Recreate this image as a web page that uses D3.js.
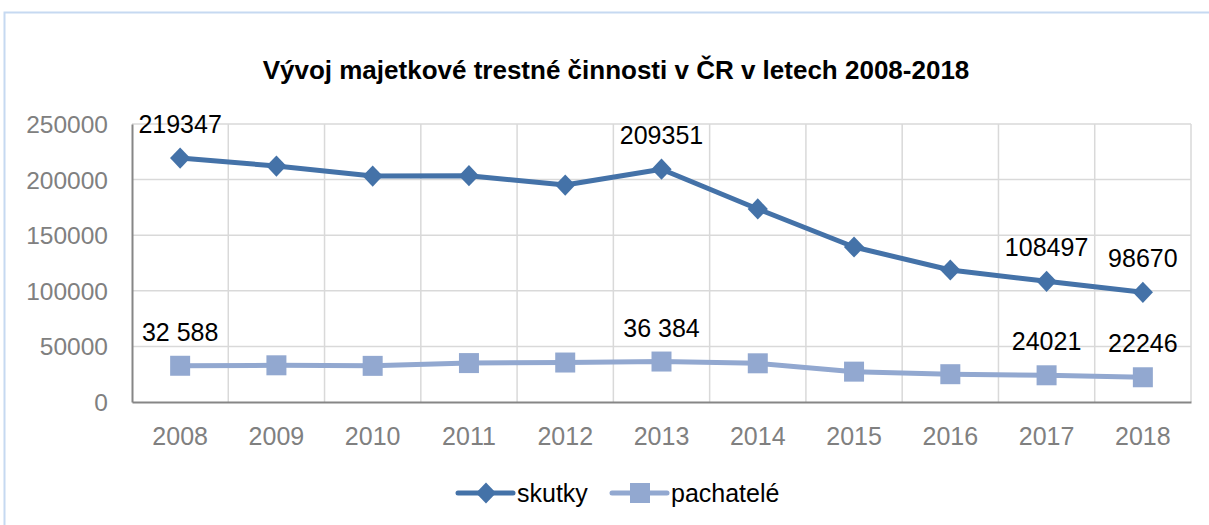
<!DOCTYPE html>
<html>
<head>
<meta charset="utf-8">
<script src="https://cdn.jsdelivr.net/npm/d3@7"></script>
<style>
  body { margin: 0; background: #fff; }
  text { font-family: "Liberation Sans", Arial, sans-serif; }
</style>
</head>
<body>
<div id="chart"></div>
<script>
// chart data
var years = ["2008", "2009", "2010", "2011", "2012", "2013", "2014", "2015", "2016", "2017", "2018"];
var skutky = [219347, 212200, 203200, 203500, 195100, 209351, 173600, 139400, 118700, 108497, 98670];
var pachatele = [32588, 33000, 32500, 35000, 35500, 36384, 34800, 27300, 25000, 24021, 22246];
var yTicks = [0, 50000, 100000, 150000, 200000, 250000];
// labels shown on the chart (index -> text)
var skutkyLabels = { 0: "219347", 5: "209351", 9: "108497", 10: "98670" };
var pachateleLabels = { 0: "32 588", 5: "36 384", 9: "24021", 10: "22246" };

var W = 1209, H = 525;
var plot = { left: 132, right: 1191, top: 124, bottom: 402 };

var svg = d3.select("#chart").append("svg")
    .attr("width", W)
    .attr("height", H);

// outer chart frame (light blue)
svg.append("rect")
    .attr("x", 4.5).attr("y", 12.5)
    .attr("width", W + 10).attr("height", H + 10)
    .attr("fill", "none")
    .attr("stroke", "#c6d9f1")
    .attr("stroke-width", 2);

var x = d3.scaleBand().domain(years).range([plot.left, plot.right]);
var y = d3.scaleLinear().domain([0, 250000]).range([plot.bottom, plot.top]);
var cx = function (i) { return x(years[i]) + x.bandwidth() / 2; };

// marker shapes
var diamond = d3.symbol().type(d3.symbolDiamond).size(130);
var square = d3.symbol().type(d3.symbolSquare).size(400);
function markerTransform(shape, px, py) {
    var t = "translate(" + px + "," + py + ")";
    return shape === "diamond" ? t + " scale(1.65,1)" : t;
}

// title
svg.append("text")
    .attr("x", 616).attr("y", 79)
    .attr("text-anchor", "middle")
    .style("font-size", "26px")
    .style("font-weight", "bold")
    .attr("fill", "#000")
    .text("Vývoj majetkové trestné činnosti v ČR v letech 2008-2018");

// horizontal gridlines
svg.append("g").selectAll("line")
    .data(yTicks.slice(1))
    .enter().append("line")
    .attr("x1", plot.left).attr("x2", plot.right)
    .attr("y1", function (d) { return y(d); })
    .attr("y2", function (d) { return y(d); })
    .attr("stroke", "#d9d9d9")
    .attr("stroke-width", 1.5);

// vertical gridlines at category boundaries
svg.append("g").selectAll("line")
    .data(years.slice(1).concat(["end"]))
    .enter().append("line")
    .attr("x1", function (d, i) { return i < years.length - 1 ? x(d) : plot.right; })
    .attr("x2", function (d, i) { return i < years.length - 1 ? x(d) : plot.right; })
    .attr("y1", plot.top).attr("y2", plot.bottom)
    .attr("stroke", "#d9d9d9")
    .attr("stroke-width", 1.5);

// y axis
var yAxis = svg.append("g")
    .attr("transform", "translate(" + plot.left + ",0)")
    .call(d3.axisLeft(y).tickValues(yTicks).tickSize(0).tickPadding(24).tickFormat(d3.format("d")));
yAxis.select(".domain").attr("stroke", "#868686").attr("stroke-width", 2);
yAxis.selectAll("text").attr("fill", "#808080").style("font-size", "24.5px").attr("dy", "0.35em");

// x axis
var xAxis = svg.append("g")
    .attr("transform", "translate(0," + plot.bottom + ")")
    .call(d3.axisBottom(x).tickSize(0).tickPadding(25));
xAxis.select(".domain").attr("stroke", "#868686").attr("stroke-width", 2);
xAxis.selectAll("text").attr("fill", "#808080").style("font-size", "25px");

var line = d3.line()
    .x(function (d, i) { return cx(i); })
    .y(function (d) { return y(d); });

var series = [
    { name: "skutky", values: skutky, labels: skutkyLabels, color: "#4472a8", shape: "diamond" },
    { name: "pachatelé", values: pachatele, labels: pachateleLabels, color: "#92a8d0", shape: "square" }
];

series.forEach(function (s) {
    svg.append("path")
        .datum(s.values)
        .attr("d", line)
        .attr("fill", "none")
        .attr("stroke", s.color)
        .attr("stroke-width", 5)
        .attr("stroke-linejoin", "round");

    svg.append("g").selectAll("path")
        .data(s.values)
        .enter().append("path")
        .attr("transform", function (d, i) { return markerTransform(s.shape, cx(i), y(d)); })
        .attr("d", s.shape === "diamond" ? diamond : square)
        .attr("fill", s.color);

    svg.append("g").selectAll("text")
        .data(Object.keys(s.labels))
        .enter().append("text")
        .attr("x", function (k) { return cx(+k); })
        .attr("y", function (k) { return y(s.values[+k]) - 25; })
        .attr("text-anchor", "middle")
        .style("font-size", "25px")
        .attr("fill", "#000")
        .text(function (k) { return s.labels[k]; });
});

// legend
var legend = [
    { name: "skutky", color: "#4472a8", shape: "diamond", x: 458 },
    { name: "pachatelé", color: "#92a8d0", shape: "square", x: 612 }
];
var lg = svg.append("g").selectAll("g")
    .data(legend)
    .enter().append("g")
    .attr("transform", function (d) { return "translate(" + d.x + ",493)"; });
lg.append("line")
    .attr("x1", 0).attr("x2", 55)
    .attr("stroke", function (d) { return d.color; })
    .attr("stroke-width", 5)
    .attr("stroke-linecap", "round");
lg.append("path")
    .attr("transform", function (d) { return markerTransform(d.shape, 28, 0); })
    .attr("d", function (d) { return d.shape === "diamond" ? diamond() : square(); })
    .attr("fill", function (d) { return d.color; });
lg.append("text")
    .attr("x", 59).attr("y", 9)
    .style("font-size", "25px")
    .attr("fill", "#000")
    .text(function (d) { return d.name; });
</script>
</body>
</html>
